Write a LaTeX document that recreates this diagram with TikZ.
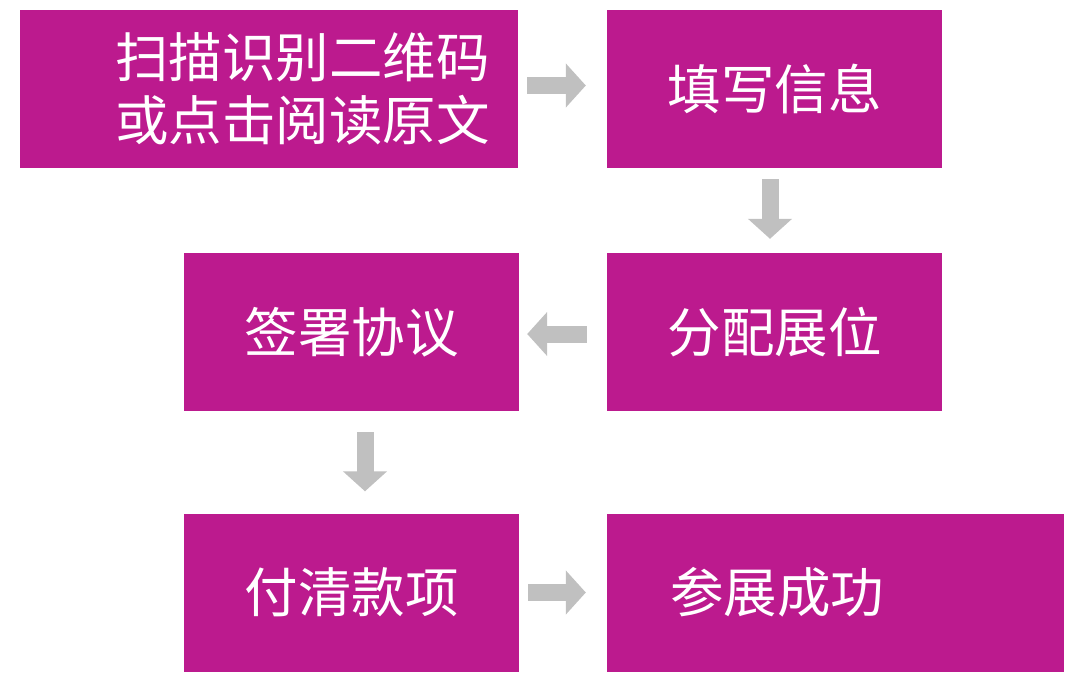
\documentclass[tikz,border=0pt]{standalone}
\usepackage{fontspec}
\newfontfamily\cjk{Noto Sans CJK SC}
\usetikzlibrary{arrows.meta, positioning}
\definecolor{flowMagenta}{RGB}{188, 26, 142}
\definecolor{flowGray}{RGB}{192, 192, 192}

\begin{document}
\begin{tikzpicture}[
        x=1pt,
        y=-1pt,
        stepbox/.style={rectangle, fill=flowMagenta, draw=none, minimum width=335pt, minimum height=158pt, inner sep=0pt, text=white, font=\cjk\fontsize{53.5}{63}\selectfont},
        flow/.style={draw=flowGray, line width=17pt, -{Triangle[width=43pt, length=20pt]}}
    ]
        \useasboundingbox[fill=white] (0,0) rectangle (1080,685);

        \node[stepbox, minimum width=498pt, text width=442pt, inner xsep=28pt, align=right] (scan) at (269,89) {扫描识别二维码\\或点击阅读原文};
        \node[stepbox] (fill) at (774.5,89) {填写信息};
        \node[stepbox] (booth) at (774.5,332) {分配展位};
        \node[stepbox] (sign) at (351.5,332) {签署协议};
        \node[stepbox] (pay) at (351.5,592.5) {付清款项};
        \node[stepbox, minimum width=457pt, text width=331pt, inner xsep=63pt, align=left] (done) at (835.5,592.5) {参展成功};

        \draw[flow, shorten <=9pt, shorten >=21pt] ([yshift=3.5pt]scan.east) -- ([yshift=3.5pt]fill.west);
        \draw[flow, shorten <=11pt, shorten >=14pt] ([xshift=-4.5pt]fill.south) -- ([xshift=-4.5pt]booth.north);
        \draw[flow, shorten <=20pt, shorten >=8pt] ([yshift=-2pt]booth.west) -- ([yshift=-2pt]sign.east);
        \draw[flow, shorten <=21pt, shorten >=22pt] ([xshift=13.5pt]sign.south) -- ([xshift=13.5pt]pay.north);
        \draw[flow, shorten <=9pt, shorten >=21pt] (pay.east) -- (done.west);
    \end{tikzpicture}
\end{document}
